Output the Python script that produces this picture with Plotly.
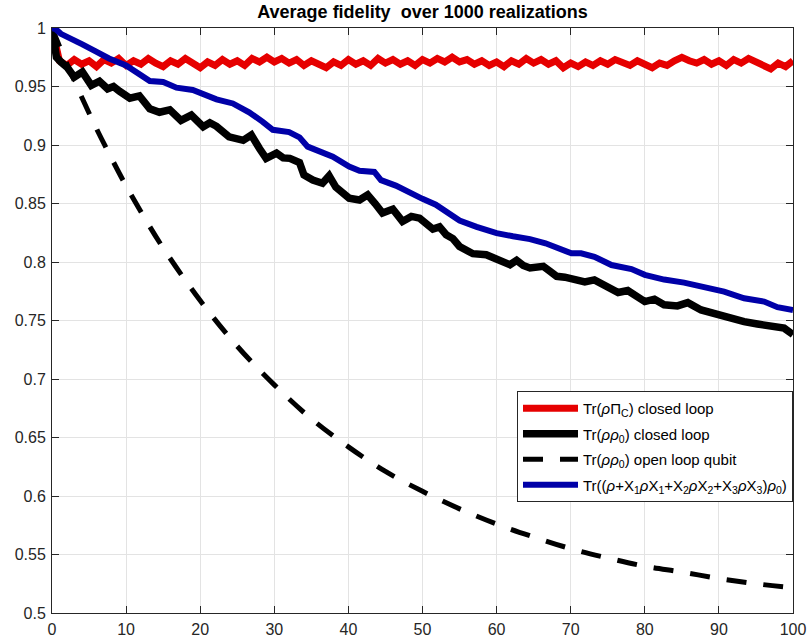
import plotly.graph_objects as go

# ---------------- data ----------------
red_t = list(range(0, 101))
red_v = [1.000, 0.972, 0.968, 0.973, 0.969, 0.972, 0.967, 0.973, 0.970, 0.974,
         0.968, 0.972, 0.969, 0.974, 0.970, 0.967, 0.972, 0.969, 0.974, 0.970,
         0.966, 0.971, 0.968, 0.973, 0.969, 0.972, 0.968, 0.974, 0.971, 0.975,
         0.971, 0.974, 0.970, 0.973, 0.968, 0.972, 0.969, 0.966, 0.971, 0.968,
         0.973, 0.969, 0.972, 0.968, 0.974, 0.970, 0.973, 0.969, 0.972, 0.968,
         0.973, 0.970, 0.974, 0.971, 0.975, 0.971, 0.973, 0.969, 0.972, 0.968,
         0.971, 0.967, 0.972, 0.969, 0.974, 0.970, 0.973, 0.969, 0.972, 0.966,
         0.970, 0.967, 0.971, 0.968, 0.972, 0.969, 0.973, 0.970, 0.968, 0.972,
         0.969, 0.966, 0.970, 0.968, 0.972, 0.975, 0.972, 0.970, 0.973, 0.969,
         0.972, 0.968, 0.973, 0.970, 0.974, 0.971, 0.968, 0.965, 0.970, 0.967,
         0.972]

black_t = [0, 0.3, 0.6, 1.2, 2.1, 3.0, 4.1, 5.3, 6.4, 7.5, 8.3, 9.1, 10.5, 11.8,
           13.2, 14.5, 15.9, 17.4, 18.8, 20.4, 21.3, 22.2, 23.9, 25.8, 26.9, 28.0,
           28.9, 30.3, 31.2, 32.1, 33.4, 34.0, 35.2, 36.5, 37.4, 38.3, 39.2, 40.1,
           41.5, 42.6, 43.6, 44.6, 46.0, 47.3, 48.5, 49.6, 51.4, 52.3, 53.2, 54.1,
           55.0, 56.0, 56.8, 58.6, 59.5, 60.4, 61.8, 62.7, 63.6, 64.5, 66.3, 67.2,
           68.1, 69.2, 70.1, 71.9, 73.2, 75.0, 76.4, 77.7, 78.9, 80.0, 81.3, 82.6,
           84.4, 85.8, 87.6, 89.8, 91.6, 93.4, 95.2, 97.0, 98.8, 100]
black_v = [1.000, 0.985, 0.975, 0.971, 0.966, 0.958, 0.9625, 0.951, 0.9545, 0.948,
           0.950, 0.946, 0.940, 0.942, 0.931, 0.928, 0.930, 0.921, 0.9256, 0.9156,
           0.919, 0.916, 0.907, 0.904, 0.9085, 0.897, 0.8886, 0.893, 0.889, 0.8886,
           0.885, 0.8744, 0.870, 0.8673, 0.8736, 0.864, 0.859, 0.8545, 0.853, 0.8574,
           0.850, 0.8418, 0.8452, 0.8347, 0.839, 0.8375, 0.8281, 0.830, 0.8233, 0.820,
           0.8133, 0.810, 0.8071, 0.8062, 0.804, 0.8026, 0.7977, 0.8014, 0.797, 0.7949,
           0.7963, 0.792, 0.7878, 0.787, 0.786, 0.783, 0.7847, 0.7776, 0.7739, 0.7756,
           0.770, 0.7662, 0.7682, 0.7634, 0.7625, 0.7653, 0.759, 0.7548, 0.7528, 0.749,
           0.747, 0.7449, 0.7435, 0.738]

open_t = [0, 2, 4, 6, 8, 10, 12, 15, 20, 25, 30, 35, 40, 45, 50, 55, 60, 65, 70,
          75, 80, 85, 90, 95, 100]
open_v = [1.000, 0.9695, 0.941, 0.914, 0.889, 0.865, 0.843, 0.812, 0.767, 0.728,
          0.695, 0.666, 0.642, 0.621, 0.604, 0.589, 0.576, 0.565, 0.555, 0.547,
          0.540, 0.535, 0.5295, 0.525, 0.5215]

blue_t = [0, 0.5, 1.2, 2.4, 4.1, 5.9, 7.7, 10.0, 11.2, 12.3, 13.2, 15.0, 16.8, 19.0,
          20.4, 22.2, 24.4, 26.6, 28.4, 29.8, 32.0, 33.4, 34.5, 36.1, 37.9, 40.1,
          41.5, 43.5, 44.4, 46.4, 48.2, 50.0, 51.8, 53.6, 55.0, 57.3, 60.0, 62.2,
          64.5, 66.6, 68.4, 70.1, 71.4, 73.2, 75.5, 78.2, 80.0, 82.6, 85.3, 88.0,
          90.7, 93.4, 96.1, 97.9, 100]
blue_v = [1.000, 0.999, 0.995, 0.9918, 0.986, 0.980, 0.974, 0.968, 0.963, 0.9585,
          0.9547, 0.9538, 0.949, 0.947, 0.943, 0.939, 0.9355, 0.928, 0.920, 0.913,
          0.911, 0.9065, 0.8986, 0.895, 0.890, 0.8815, 0.878, 0.877, 0.870, 0.8653,
          0.859, 0.854, 0.849, 0.842, 0.8355, 0.830, 0.8247, 0.822, 0.8196, 0.816,
          0.811, 0.8074, 0.8074, 0.8045, 0.7974, 0.794, 0.789, 0.785, 0.7824, 0.7784,
          0.7747, 0.769, 0.7662, 0.7614, 0.759]

x_ticks = [0, 10, 20, 30, 40, 50, 60, 70, 80, 90, 100]
y_ticks = [0.5, 0.55, 0.6, 0.65, 0.7, 0.75, 0.8, 0.85, 0.9, 0.95, 1.0]
y_tick_labels = ["0.5", "0.55", "0.6", "0.65", "0.7", "0.75", "0.8", "0.85", "0.9", "0.95", "1"]

names = [
    "Tr(<i>ρ</i>Π<sub>C</sub>) closed loop",
    "Tr(<i>ρρ</i><sub>0</sub>) closed loop",
    "Tr(<i>ρρ</i><sub>0</sub>) open loop qubit",
    "Tr((<i>ρ</i>+X<sub>1</sub><i>ρ</i>X<sub>1</sub>+X<sub>2</sub><i>ρ</i>X<sub>2</sub>+X<sub>3</sub><i>ρ</i>X<sub>3</sub>)<i>ρ</i><sub>0</sub>)",
]

# ---------------- figure ----------------
FONT = "Liberation Sans, Arial, Helvetica, sans-serif"
fig = go.Figure()
fig.add_trace(go.Scatter(x=red_t, y=red_v, mode="lines", name=names[0], legendgroup="a",
                         line=dict(color="#e60000", width=7)))
fig.add_trace(go.Scatter(x=black_t, y=black_v, mode="lines", name=names[1], legendgroup="b",
                         line=dict(color="#000000", width=7.5)))
fig.add_trace(go.Scatter(x=open_t, y=open_v, mode="lines", name=names[2], legendgroup="c",
                         line=dict(color="#000000", width=5, dash="20px,17px", shape="spline")))
fig.add_trace(go.Scatter(x=blue_t, y=blue_v, mode="lines", name=names[3], legendgroup="d",
                         line=dict(color="#0000a8", width=6)))

axis_common = dict(showline=True, mirror="ticks", linecolor="#262626", linewidth=1,
                   ticks="inside", ticklen=7, tickcolor="#262626", showgrid=True,
                   gridcolor="#e3e3e3", gridwidth=1, zeroline=False, automargin=False,
                   tickfont=dict(family=FONT, size=16, color="#262626"))

fig.update_xaxes(range=[0, 100], tickvals=x_ticks, ticktext=[str(v) for v in x_ticks],
                 ticklabelstandoff=2, **axis_common)
fig.update_yaxes(range=[0.5, 1.0], tickvals=y_ticks, ticktext=y_tick_labels,
                 ticklabelstandoff=2, **axis_common)

fig.update_layout(
    width=808, height=640,
    margin=dict(l=52, r=15, t=28, b=27, autoexpand=False),
    plot_bgcolor="white", paper_bgcolor="white",
    font=dict(family=FONT, color="#000000"),
    title=dict(text="<b>Average fidelity  over 1000 realizations</b>",
               x=0.5, xref="paper", xanchor="center",
               y=1 - 12 / 640, yref="container", yanchor="middle",
               font=dict(family=FONT, size=18, color="#000000")),
    legend=dict(x=1.0, xanchor="right", y=0.3795, yanchor="top",
                bgcolor="white", bordercolor="#262626", borderwidth=1,
                font=dict(family=FONT, size=15, color="#000000"),
                traceorder="grouped", tracegroupgap=3, itemwidth=55),
    showlegend=True,
)

fig.write_html("out.html",
               config={"displayModeBar": False},
               post_script="document.body.style.margin='0';document.body.style.overflow='hidden';")
